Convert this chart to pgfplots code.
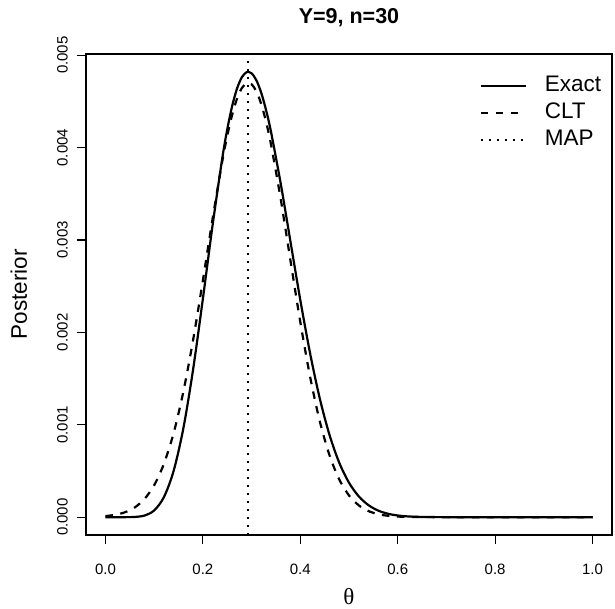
\documentclass[border=0pt]{standalone}
\usepackage{pgfplots}
\pgfplotsset{compat=1.18}
\usepackage{fontspec}
\setmainfont{Liberation Sans}
\newfontfamily\serifgreek{Liberation Serif}

\pgfplotstableread{
t v
0.00 0
0.02 0
0.04 0.00000011
0.06 0.0000023
0.08 0.0000172
0.10 0.0000731
0.12 0.000217
0.14 0.0005022
0.16 0.0009645
0.18 0.0016017
0.20 0.0023642
0.22 0.0031634
0.24 0.0038912
0.25 0.004196
0.26 0.0044474
0.27 0.0046375
0.28 0.0047614
0.29 0.0048168
0.30 0.0048041
0.31 0.0047266
0.32 0.0045897
0.33 0.0044000
0.34 0.0041668
0.36 0.0036044
0.38 0.0029768
0.40 0.0023507
0.42 0.0017762
0.44 0.0012845
0.46 0.0008893
0.48 0.0005890
0.50 0.0003731
0.52 0.0002255
0.54 0.0001299
0.56 0.0000711
0.58 0.0000369
0.60 0.0000181
0.62 0.0000084
0.64 0.0000037
0.66 0.0000015
0.70 0.0000002
0.80 0
0.90 0
1.00 0
}\exact

\pgfplotstableread{
t v
0.00 0.0000115
0.02 0.0000254
0.04 0.0000531
0.06 0.0001049
0.08 0.0001959
0.10 0.0003459
0.12 0.0005775
0.14 0.0009115
0.16 0.0013606
0.18 0.0019203
0.20 0.0025627
0.22 0.0032339
0.24 0.0038584
0.25 0.004127
0.26 0.0043531
0.27 0.0045277
0.28 0.0046439
0.29 0.0046968
0.30 0.0046843
0.31 0.0046070
0.32 0.0044680
0.33 0.0042729
0.34 0.0040295
0.36 0.0034363
0.38 0.0027708
0.40 0.0021126
0.42 0.0015231
0.44 0.0010382
0.46 0.0006692
0.48 0.0004079
0.50 0.0002351
0.52 0.0001281
0.54 0.0000660
0.56 0.0000321
0.58 0.0000148
0.60 0.0000064
0.64 0.000001
0.70 0
0.80 0
0.90 0
1.00 0
}\clt

\begin{document}
\begin{tikzpicture}
\begin{axis}[
  scale only axis, width=526pt, height=481pt,
  xmin=-0.04, xmax=1.04, ymin=-0.000193, ymax=0.005013,
  axis line style={line width=1.1pt},
  xtick={0,0.2,0.4,0.6,0.8,1},
  ytick={0,0.001,0.002,0.003,0.004,0.005},
  scaled y ticks=false, scaled x ticks=false,
  x tick label style={/pgf/number format/fixed,/pgf/number format/fixed zerofill,/pgf/number format/precision=1},
  y tick label style={/pgf/number format/fixed,/pgf/number format/fixed zerofill,/pgf/number format/precision=3},
  /pgf/number format/assume math mode=true,
  tick label style={font=\fontsize{15}{18}\selectfont},
  xticklabel style={anchor=north, inner sep=0pt},
  yticklabel style={rotate=90, anchor=south, inner sep=0pt},
  xticklabel shift=20pt, yticklabel shift=9pt,
  tick align=outside, major tick length=9pt,
  xtick pos=bottom, ytick pos=left,
  tick style={line width=1.1pt, black},
  title={Y=9, n=30},
  title style={at={(axis description cs:0.5,1.0499)}, anchor=base, inner sep=0pt, font=\fontsize{21.5}{26}\selectfont\bfseries},
  xlabel={{\serifgreek θ}},
  xlabel style={at={(axis description cs:0.5,-0.1435)}, anchor=base, inner sep=0pt, font=\fontsize{23}{28}\selectfont},
  ylabel={Posterior},
  ylabel style={at={(axis description cs:-0.1122,0.5)}, anchor=base, inner sep=0pt, font=\fontsize{22.5}{27}\selectfont},
  legend style={at={(axis description cs:0.748,0.9549)}, anchor=north west, draw=none, fill=none, inner sep=0pt,
    row sep=6pt, column sep=18pt, font=\fontsize{22.5}{27}\selectfont,
    nodes={inner sep=0pt, text height=16pt, text depth=5pt}},
  legend cell align=left,
  legend image code/.code={\draw[#1] (0pt,0pt) -- (45pt,0pt);},
]
\addplot[black, line width=2.2pt, smooth, tension=0.5, line join=round] table[x=t,y=v] {\exact};
\addlegendentry{Exact}
\addplot[black, line width=2.2pt, smooth, tension=0.5, dash pattern=on 7.5pt off 7.5pt] table[x=t,y=v] {\clt};
\addlegendentry{CLT}
\addplot[black, line width=2pt, dash pattern=on 2pt off 6pt] coordinates {(0.2935,-0.000193) (0.2935,0.005013)};
\addlegendentry{MAP}
\coordinate (bl) at (rel axis cs:0,0);
\end{axis}
\pgfresetboundingbox
\path[use as bounding box] (bl) ++(-86pt,-74pt) rectangle ++(615pt,609pt);
\end{tikzpicture}
\end{document}
